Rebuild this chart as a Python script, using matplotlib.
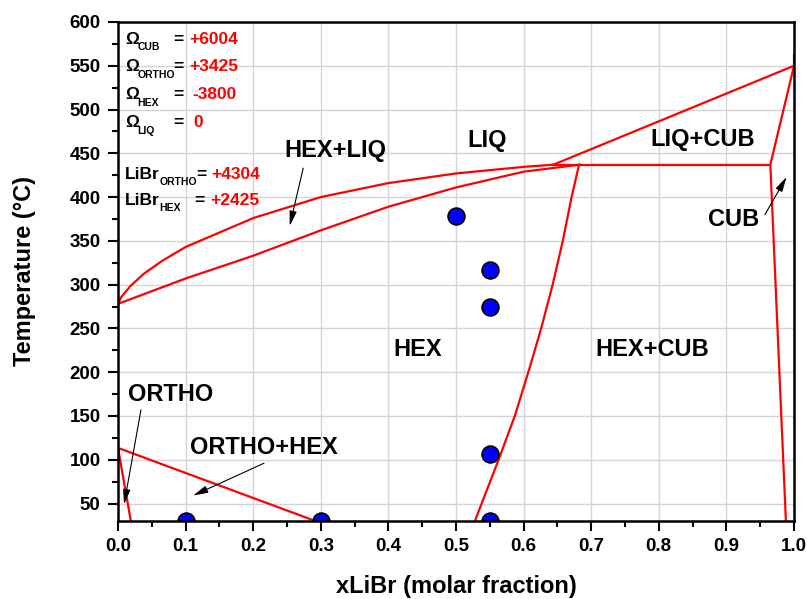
import matplotlib
matplotlib.use("Agg")
import matplotlib.pyplot as plt
from matplotlib.ticker import MultipleLocator

plt.rcParams["font.family"] = ["Liberation Sans", "DejaVu Sans"]
plt.rcParams["font.weight"] = "bold"

# liquidus (upper curve of HEX+LIQ)
liq_x = [0.0, 0.005, 0.018, 0.0375, 0.065, 0.1, 0.2, 0.3, 0.4, 0.5, 0.6, 0.644]
liq_T = [278, 286, 298, 312, 327, 343, 376, 400, 416, 427, 434.5, 437]

# HEX solidus (lower curve of HEX+LIQ)
sol_x = [0.0, 0.1, 0.2, 0.3, 0.4, 0.5, 0.6, 0.683]
sol_T = [278, 307, 333, 362, 389, 411, 429, 437]

# HEX / HEX+CUB boundary
hc_x = [0.528, 0.538, 0.563, 0.587, 0.607, 0.626, 0.643, 0.658, 0.671, 0.682]
hc_T = [30, 50, 100, 150, 200, 250, 300, 350, 400, 437]

# peritectic line and CUB side
per_x = [0.644, 0.965]
per_T = [437, 437]
liqcub_x = [0.644, 1.0]
liqcub_T = [437, 550]
cub_x = [1.0, 1.0, 0.965, 0.988]
cub_T = [562, 550, 437, 30]

# ORTHO side
ortho_x = [0.0, 0.019]
ortho_T = [113.5, 30]
orthohex_x = [0.0, 0.292]
orthohex_T = [113.5, 30]

# experimental points
pts_x = [0.5, 0.55, 0.55, 0.55, 0.55, 0.1, 0.3]
pts_T = [378, 317, 275, 107, 30, 30, 30]

# region labels
region_names = ["LIQ", "LIQ+CUB", "HEX+LIQ", "CUB", "HEX", "HEX+CUB", "ORTHO", "ORTHO+HEX"]
region_x = [0.546, 0.865, 0.321, 0.910, 0.444, 0.791, 0.078, 0.216]
region_T = [465, 466, 453, 374, 226, 226, 174, 114]

# arrows: (start, tip)
arrow_start = [(0.034, 157), (0.216, 96), (0.274, 433), (0.957, 380)]
arrow_tip = [(0.009, 49), (0.111, 59), (0.254, 367), (0.989, 423)]

# model parameters
param_names = ["Ω", "Ω", "Ω", "Ω", "LiBr", "LiBr"]
param_subs = ["CUB", "ORTHO", "HEX", "LIQ", "ORTHO", "HEX"]
param_values = ["+6004", "+3425", "-3800", "0", "+4304", "+2425"]

fig = plt.figure(figsize=(8.07, 5.99), dpi=100)
ax = fig.add_axes([0.1462, 0.1302, 0.8377, 0.8331])

ax.grid(True, which="major", color="#d4d4d4", linewidth=1.0, zorder=0)

red = dict(color="red", linewidth=1.6, zorder=2)
ax.plot(liq_x, liq_T, **red)
ax.plot(sol_x, sol_T, **red)
ax.plot(hc_x, hc_T, **red)
ax.plot(per_x, per_T, **red)
ax.plot(liqcub_x, liqcub_T, **red)
ax.plot(cub_x, cub_T, **red)
ax.plot(ortho_x, ortho_T, **red)
ax.plot(orthohex_x, orthohex_T, **red)

ax.plot(pts_x, pts_T, "o", markersize=12, markerfacecolor="blue",
        markeredgecolor="black", markeredgewidth=1.3, zorder=3)

for name, x, t in zip(region_names, region_x, region_T):
    ax.text(x, t, name, fontsize=17, fontweight="bold", ha="center", va="center", zorder=4)

for s, e in zip(arrow_start, arrow_tip):
    ax.annotate("", xy=e, xytext=s,
                arrowprops=dict(arrowstyle="-|>,head_length=0.9,head_width=0.22",
                                color="black", lw=0.8, shrinkA=0, shrinkB=0), zorder=4)

# parameter block in the upper left
name_T = [575, 543.7, 511.5, 479.5, 421, 391]
sub_dx = [9, 9, 9, 9, 24.7, 24.7]
eq_x = [0.0888, 0.0888, 0.0888, 0.0888, 0.1237, 0.121]
val_x = [0.105, 0.105, 0.110, 0.111, 0.138, 0.136]
for name, sub, val, t, dx, ex, vx in zip(param_names, param_subs, param_values,
                                         name_T, sub_dx, eq_x, val_x):
    ax.text(0.0104, t, name, fontsize=12.5, ha="left", va="baseline", zorder=4)
    ax.annotate(sub, xy=(0.0104, t), xytext=(dx, -4.5), textcoords="offset points",
                fontsize=7.5, ha="left", va="baseline", zorder=4)
    ax.text(ex, t, "=", fontsize=12.5, ha="center", va="baseline", zorder=4)
    ax.text(vx, t, val, fontsize=12.5, color="red", ha="left", va="baseline", zorder=4)

ax.set_xlim(0, 1.0)
ax.set_ylim(30, 600)
ax.xaxis.set_major_locator(MultipleLocator(0.1))
ax.xaxis.set_minor_locator(MultipleLocator(0.05))
ax.yaxis.set_major_locator(MultipleLocator(50))
ax.yaxis.set_minor_locator(MultipleLocator(25))
ax.tick_params(which="major", direction="out", length=7.5, width=1.5, labelsize=13.5, pad=5)
ax.tick_params(which="minor", direction="out", length=4, width=1.5)
ax.xaxis.set_major_formatter(plt.FuncFormatter(lambda v, p: f"{v:.1f}"))
for lab in ax.get_xticklabels() + ax.get_yticklabels():
    lab.set_fontweight("bold")
for sp in ax.spines.values():
    sp.set_linewidth(1.8)
    sp.set_zorder(5)

ax.set_xlabel("xLiBr (molar fraction)", fontsize=17, fontweight="bold", labelpad=14)
ax.set_ylabel("Temperature (°C)", fontsize=17, fontweight="bold", labelpad=24)

fig.savefig("out.png", dpi=100)
